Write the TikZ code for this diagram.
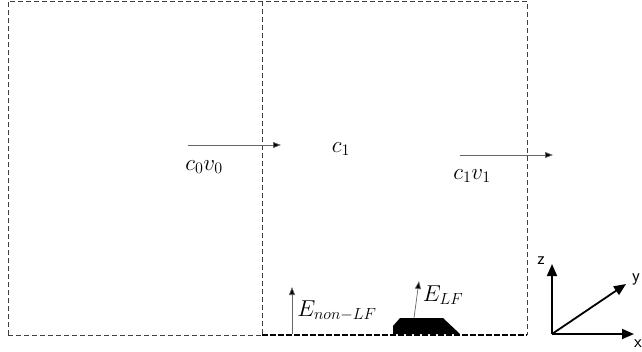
\RequirePackage{fix-cm}
\documentclass[tikz,border=0pt]{standalone}
\usepackage{fontspec}
\usetikzlibrary{arrows.meta}
\begin{document}
\begin{tikzpicture}[x=1pt,y=-1pt,
  wall/.style={draw=black!75, line width=1pt, dash pattern=on 5pt off 3pt},
  floor/.style={draw=black, line width=2pt, dash pattern=on 6pt off 2pt},
  flux/.style={draw=black!60, line width=0.7pt, -{Triangle[length=8pt,width=6pt,fill=black]}},
  axis/.style={draw=black, line width=1.8pt, -{Triangle[length=12pt,width=10pt]}},
  lbl/.style={font=\fontsize{23}{26}\selectfont, inner sep=0pt},
  ax/.style={font=\fontsize{18}{20}\selectfont\sffamily, inner sep=0pt}]
\useasboundingbox (0,0) rectangle (642,351);
% coordinates
\coordinate (tl) at (8,1);
\coordinate (tm) at (262,1);
\coordinate (tr) at (527,1);
\coordinate (bl) at (8,335);
\coordinate (bm) at (262,335);
\coordinate (br) at (527,335);
% walls
\draw[wall] (bl) -- (tl) -- (tr) -- (br);
\draw[wall] (tm) -- (bm);
\draw[wall] (bl) -- (bm);
\draw[floor] (bm) -- (br);
% flux arrows
\coordinate (a0s) at (188,145); \coordinate (a0e) at (281,145);
\coordinate (a1s) at (460,155); \coordinate (a1e) at (553,155);
\draw[flux] (a0s) -- (a0e);
\draw[flux] (a1s) -- (a1e);
\node[lbl] (c0v0) at (204,167) {$c_0v_0$};
\node[lbl] (c1) at (341,149) {$c_1$};
\node[lbl] (c1v1) at (472,176) {$c_1v_1$};
% emissions
\coordinate (en0) at (292,334); \coordinate (en1) at (292,287);
\draw[flux] (en0) -- (en1);
\node[lbl] (enon) at (337,311) {$E_{non-LF}$};
\fill[black] (393,334) -- (393,326) -- (400,318) -- (443,318) -- (460,334) -- cycle;
\coordinate (el0) at (414,318); \coordinate (el1) at (419,281);
\draw[flux] (el0) -- (el1);
\node[lbl] (elf) at (443,295) {$E_{LF}$};
% axes
\coordinate (o) at (552,334);
\coordinate (zt) at (552,264);
\coordinate (xt) at (634,334);
\coordinate (yt) at (626,284);
\draw[axis] (o) -- (zt);
\draw[axis] (o) -- (xt);
\draw[axis] (o) -- (yt);
\node[ax] (zl) at (541,261) {z};
\node[ax] (yl) at (636,279) {y};
\node[ax] (xl) at (638,344) {x};
\end{tikzpicture}
\end{document}
